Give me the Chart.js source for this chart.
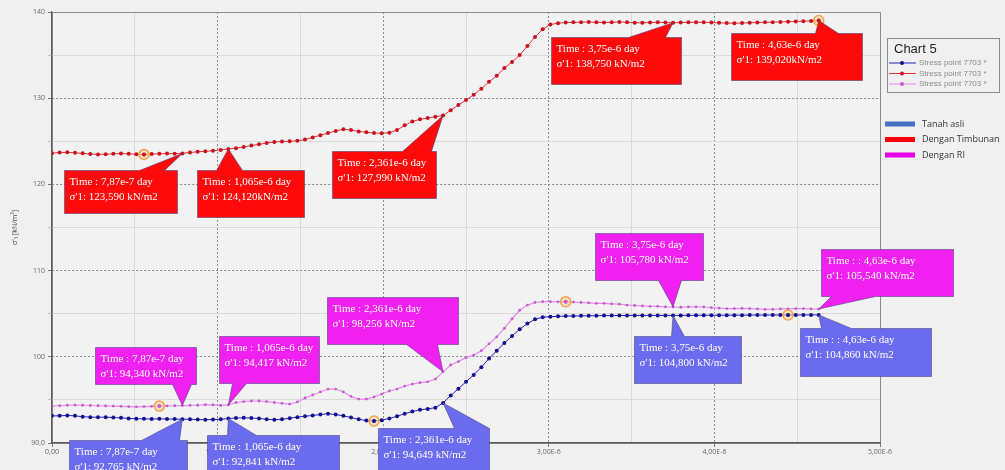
<!DOCTYPE html>
<html>
<head>
<meta charset="utf-8">
<script src="https://cdn.jsdelivr.net/npm/chart.js@4.4.1/dist/chart.umd.min.js"></script>
<style>
  html, body { margin: 0; padding: 0; background: #f0f0f0; }
  canvas { display: block; }
</style>
</head>
<body>
<canvas id="stressChart" width="1005" height="470"></canvas>
<script>
// time of each calculation step, in units of 1e-6 day
const timeMicroDay = [
  0, 0.0463, 0.0926, 0.1389, 0.1852, 0.2315, 0.2778, 0.3241, 0.3704, 0.4167,
  0.463, 0.5093, 0.5556, 0.6019, 0.6482, 0.6945, 0.7408, 0.7871, 0.8334, 0.8797,
  0.926, 0.9723, 1.0186, 1.0649, 1.1112, 1.1575, 1.2038, 1.2501, 1.2964, 1.3427,
  1.389, 1.4353, 1.4816, 1.5279, 1.5742, 1.6205, 1.6668, 1.7131, 1.7594, 1.8057,
  1.852, 1.8983, 1.9446, 1.9909, 2.0372, 2.0835, 2.1298, 2.1761, 2.2224, 2.2687,
  2.315, 2.3613, 2.4076, 2.4539, 2.5002, 2.5465, 2.5928, 2.6391, 2.6854, 2.7317,
  2.778, 2.8243, 2.8706, 2.9169, 2.9632, 3.0095, 3.0558, 3.1021, 3.1484, 3.1947,
  3.241, 3.2873, 3.3336, 3.3799, 3.4262, 3.4725, 3.5188, 3.5651, 3.6114, 3.6577,
  3.704, 3.7503, 3.7966, 3.8429, 3.8892, 3.9355, 3.9818, 4.0281, 4.0744, 4.1207,
  4.167, 4.2133, 4.2596, 4.3059, 4.3522, 4.3985, 4.4448, 4.4911, 4.5374, 4.5837,
  4.63
];

// sigma'1 [kN/m2] at stress point 7703
const tanahAsli = [
  93.15, 93.15, 93.20, 93.15, 93.05, 93.00, 92.98, 93.00, 92.95, 92.92,
  92.85, 92.82, 92.80, 92.78, 92.80, 92.78, 92.77, 92.765, 92.75, 92.72,
  92.70, 92.72, 92.75, 92.841, 92.90, 92.92, 92.90, 92.85, 92.75, 92.70,
  92.75, 92.88, 93.00, 93.10, 93.20, 93.30, 93.40, 93.30, 93.15, 92.95,
  92.75, 92.60, 92.55, 92.65, 92.85, 93.10, 93.40, 93.65, 93.85, 93.95,
  94.10, 94.649, 95.50, 96.30, 97.10, 97.90, 98.80, 99.80, 100.70, 101.60,
  102.40, 103.20, 103.85, 104.35, 104.60, 104.65, 104.70, 104.72, 104.74, 104.75,
  104.76, 104.77, 104.78, 104.78, 104.79, 104.79, 104.80, 104.80, 104.80, 104.80,
  104.80, 104.80, 104.80, 104.81, 104.81, 104.82, 104.82, 104.82, 104.83, 104.83,
  104.83, 104.84, 104.84, 104.84, 104.85, 104.85, 104.85, 104.85, 104.86, 104.86,
  104.86
];
const denganTimbunan = [
  123.62, 123.70, 123.72, 123.66, 123.60, 123.52, 123.48, 123.50, 123.55, 123.58,
  123.55, 123.50, 123.48, 123.52, 123.56, 123.58, 123.57, 123.59, 123.70, 123.78,
  123.84, 123.90, 124.00, 124.12, 124.20, 124.35, 124.50, 124.65, 124.80, 124.92,
  124.98, 125.00, 125.05, 125.20, 125.45, 125.70, 125.95, 126.20, 126.40, 126.30,
  126.15, 126.05, 125.95, 125.93, 126.00, 126.30, 126.85, 127.30, 127.55, 127.70,
  127.85, 127.99, 128.60, 129.20, 129.80, 130.40, 131.10, 131.90, 132.60, 133.50,
  134.20, 135.00, 136.05, 137.10, 138.00, 138.55, 138.70, 138.78, 138.80, 138.82,
  138.85, 138.80, 138.78, 138.80, 138.85, 138.80, 138.75, 138.75, 138.78, 138.80,
  138.78, 138.75, 138.78, 138.80, 138.82, 138.80, 138.78, 138.75, 138.72, 138.70,
  138.72, 138.75, 138.78, 138.80, 138.82, 138.85, 138.88, 138.90, 138.93, 138.97,
  139.02
];
const denganRI = [
  94.30, 94.32, 94.38, 94.40, 94.38, 94.35, 94.32, 94.30, 94.28, 94.25,
  94.22, 94.20, 94.22, 94.25, 94.28, 94.30, 94.32, 94.34, 94.36, 94.38,
  94.45, 94.42, 94.36, 94.417, 94.70, 94.81, 94.87, 94.87, 94.81, 94.70,
  94.60, 94.52, 94.76, 95.22, 95.57, 95.92, 96.26, 96.26, 95.92, 95.40,
  95.10, 95.10, 95.34, 95.68, 96.03, 96.26, 96.60, 96.84, 97.00, 97.10,
  97.42, 98.256, 99.05, 99.45, 99.90, 100.20, 100.70, 101.50, 102.30, 103.30,
  104.40, 105.40, 106.00, 106.30, 106.40, 106.40, 106.38, 106.40, 106.35, 106.30,
  106.25, 106.20, 106.20, 106.15, 106.10, 106.00, 105.95, 105.90, 105.85, 105.85,
  105.80, 105.78, 105.75, 105.80, 105.80, 105.78, 105.70, 105.65, 105.60, 105.60,
  105.62, 105.60, 105.55, 105.50, 105.50, 105.55, 105.55, 105.60, 105.60, 105.55,
  105.54
];

const seriesNames = ['Tanah asli', 'Dengan Timbunan', 'Dengan RI'];
const legendName = 'Stress point 7703 *';
const chartTitle = 'Chart 5';

const xTicks = [0, 1, 2, 3, 4, 5];
const xTickLabels = ['0,00', '1,00E-6', '2,00E-6', '3,00E-6', '4,00E-6', '5,00E-6'];
const yTicks = [90, 100, 110, 120, 130, 140];
const yTickLabels = ['90,0', '100', '110', '120', '130', '140'];

// steps that carry a value label, and the time text shown on them
const labelSteps = [17, 23, 51, 81, 100];
const labelTimes = ['7,87e-7', '1,065e-6', '2,361e-6', '3,75e-6', '4,63e-6'];

// selected points circled in orange: [dataset, step]
const circledPoints = [[1, 12], [1, 100], [2, 14], [0, 42], [2, 67], [0, 96]];

const lineColors = ['#2323c4', '#e6303a', '#e48ae8'];
const dotColors = ['#12128e', '#c8141c', '#c85ad0'];
const boxColors = ['#6b6bef', '#ff0a0a', '#f020f0'];
const swatchColors = ['#4472c4', '#ff0000', '#e600e6'];

// callout placement relative to the labelled point (dataset, label no.)
const callouts = [
  { s: 1, k: 0, dx: -118, dy: 17, w: 113, h: 43, edge: 'top', b0: 75, b1: 100, sep: ' ', colon: ':' },
  { s: 1, k: 1, dx: -31, dy: 21, w: 107, h: 47, edge: 'top', b0: 19, b1: 45, sep: '', colon: ':' },
  { s: 1, k: 2, dx: -111, dy: 35, w: 104, h: 47, edge: 'top', b0: 70, b1: 99, sep: ' ', colon: ':' },
  { s: 1, k: 3, dx: -122, dy: 14, w: 130, h: 47, edge: 'top', b0: 77, b1: 114, sep: ' ', colon: ':' },
  { s: 1, k: 4, dx: -88, dy: 13, w: 131, h: 47, edge: 'top', b0: 84, b1: 107, sep: '', colon: ':' },
  { s: 2, k: 0, dx: -87, dy: -59, w: 101, h: 37, edge: 'bottom', b0: 77, b1: 96, sep: ' ', colon: ':' },
  { s: 2, k: 1, dx: -9, dy: -69, w: 100, h: 47, edge: 'bottom', b0: 13, b1: 27, sep: ' ', colon: ':' },
  { s: 2, k: 2, dx: -116, dy: -75, w: 131, h: 47, edge: 'bottom', b0: 79, b1: 110, sep: ' ', colon: ':' },
  { s: 2, k: 3, dx: -78, dy: -74, w: 108, h: 47, edge: 'bottom', b0: 63, b1: 86, sep: ' ', colon: ':' },
  { s: 2, k: 4, dx: 2, dy: -60, w: 132, h: 47, edge: 'bottom', b0: 10, b1: 54, sep: ' ', colon: ': :' },
  { s: 0, k: 0, dx: -113, dy: 21, w: 118, h: 42, edge: 'top', b0: 72, b1: 110, sep: ' ', colon: ':' },
  { s: 0, k: 1, dx: -21, dy: 16, w: 132, h: 42, edge: 'top', b0: 20, b1: 49, sep: ' ', colon: ':' },
  { s: 0, k: 2, dx: -65, dy: 25, w: 111, h: 45, edge: 'top', b0: 76, b1: 111, sep: ' ', colon: ':' },
  { s: 0, k: 3, dx: -39, dy: 21, w: 107, h: 47, edge: 'top', b0: 37, b1: 50, sep: ' ', colon: ':' },
  { s: 0, k: 4, dx: -19, dy: 13, w: 131, h: 48, edge: 'top', b0: 21, b1: 51, sep: ' ', colon: ': :' }
];

function fmtValue(v) {
  return v.toFixed(3).replace('.', ',');
}

const seriesData = [tanahAsli, denganTimbunan, denganRI];

const isWhole = (v) => Math.abs(v - Math.round(v)) < 1e-9;

const backgroundPlugin = {
  id: 'background',
  beforeDraw(chart) {
    const ctx = chart.ctx;
    ctx.save();
    ctx.fillStyle = '#f0f0f0';
    ctx.fillRect(0, 0, chart.width, chart.height);
    const a = chart.chartArea;
    ctx.fillStyle = '#f2f2f2';
    ctx.fillRect(a.left, a.top, a.right - a.left, a.bottom - a.top);
    ctx.restore();
  }
};

const circlePlugin = {
  id: 'circled',
  afterDatasetsDraw(chart) {
    const ctx = chart.ctx;
    ctx.save();
    circledPoints.forEach(([ds, i]) => {
      const pt = chart.getDatasetMeta(ds).data[i];
      ctx.beginPath();
      ctx.arc(pt.x, pt.y, 5, 0, Math.PI * 2);
      ctx.fillStyle = 'rgba(255, 214, 150, 0.55)';
      ctx.fill();
      ctx.lineWidth = 1.5;
      ctx.strokeStyle = '#f2a24a';
      ctx.stroke();
      ctx.beginPath();
      ctx.arc(pt.x, pt.y, 2, 0, Math.PI * 2);
      ctx.fillStyle = dotColors[ds];
      ctx.fill();
    });
    ctx.restore();
  }
};

const calloutPlugin = {
  id: 'callouts',
  afterDraw(chart) {
    const ctx = chart.ctx;
    ctx.save();
    callouts.forEach((c) => {
      const step = labelSteps[c.k];
      const pt = chart.getDatasetMeta(c.s).data[step];
      const tipX = pt.x;
      const tipY = pt.y;
      const left = Math.round(tipX + c.dx) + 0.5;
      const top = Math.round(tipY + c.dy) + 0.5;
      const right = left + c.w;
      const bottom = top + c.h;

      ctx.beginPath();
      if (c.edge === 'top') {
        ctx.moveTo(left, top);
        ctx.lineTo(left + c.b0, top);
        ctx.lineTo(tipX, tipY);
        ctx.lineTo(left + c.b1, top);
        ctx.lineTo(right, top);
        ctx.lineTo(right, bottom);
        ctx.lineTo(left, bottom);
      } else {
        ctx.moveTo(left, top);
        ctx.lineTo(right, top);
        ctx.lineTo(right, bottom);
        ctx.lineTo(left + c.b1, bottom);
        ctx.lineTo(tipX, tipY);
        ctx.lineTo(left + c.b0, bottom);
        ctx.lineTo(left, bottom);
      }
      ctx.closePath();
      ctx.fillStyle = boxColors[c.s];
      ctx.fill();
      ctx.lineWidth = 1;
      ctx.strokeStyle = 'rgba(70, 60, 120, 0.55)';
      ctx.stroke();

      ctx.fillStyle = '#ffffff';
      ctx.font = "11px 'Liberation Serif', serif";
      ctx.textAlign = 'left';
      ctx.textBaseline = 'middle';
      ctx.fillText('Time ' + c.colon + ' ' + labelTimes[c.k] + ' day', left + 5, top + 12);
      ctx.fillText("σ'1: " + fmtValue(seriesData[c.s][step]) + c.sep + 'kN/m2', left + 5, top + 27);
    });
    ctx.restore();
  }
};

const legendPlugin = {
  id: 'sideLegend',
  afterDraw(chart) {
    const ctx = chart.ctx;
    ctx.save();
    // boxed series legend
    ctx.strokeStyle = '#8a8a8a';
    ctx.lineWidth = 1;
    ctx.strokeRect(887.5, 38.5, 112, 54);
    ctx.fillStyle = '#222';
    ctx.font = "13px 'Liberation Sans', sans-serif";
    ctx.textBaseline = 'middle';
    ctx.fillText(chartTitle, 894, 49);
    seriesNames.forEach((name, ds) => {
      const y = 63 + ds * 10.5;
      ctx.strokeStyle = lineColors[ds];
      ctx.beginPath();
      ctx.moveTo(889, y);
      ctx.lineTo(916, y);
      ctx.stroke();
      ctx.beginPath();
      ctx.arc(902, y, 2, 0, Math.PI * 2);
      ctx.fillStyle = dotColors[ds];
      ctx.fill();
      ctx.fillStyle = '#8a8a8a';
      ctx.font = "8px 'Liberation Sans', sans-serif";
      ctx.fillText(legendName, 919, y);
    });
    // colour key
    seriesNames.forEach((name, i) => {
      const y = 124 + i * 15.5;
      ctx.fillStyle = swatchColors[i];
      ctx.fillRect(885, y - 2.5, 30, 5);
      ctx.fillStyle = '#333';
      ctx.font = "9px 'Open Sans', sans-serif";
      ctx.fillText(name, 922, y);
    });
    ctx.restore();
  }
};

const ctx = document.getElementById('stressChart').getContext('2d');

const myChart = new Chart(ctx, {
  type: 'line',
  data: {
    datasets: seriesData.map((values, ds) => ({
      label: legendName,
      data: values.map((v, i) => ({ x: timeMicroDay[i], y: v })),
      borderColor: lineColors[ds],
      borderWidth: ds === 2 ? 1.2 : 1,
      pointRadius: ds === 2 ? 1.4 : 2,
      pointBackgroundColor: dotColors[ds],
      pointBorderWidth: 0,
      tension: 0
    }))
  },
  options: {
    responsive: false,
    animation: false,
    layout: { padding: { top: 12, right: 125, left: 0, bottom: 0 } },
    plugins: {
      legend: { display: false },
      tooltip: { enabled: false }
    },
    scales: {
      x: {
        type: 'linear',
        min: 0,
        max: 5,
        afterBuildTicks(scale) {
          const t = [];
          for (let v = 0; v <= 5; v += 0.5) t.push({ value: v });
          scale.ticks = t;
        },
        afterFit(scale) { scale.height = 27; },
        ticks: {
          autoSkip: false,
          maxRotation: 0,
          padding: 1,
          color: '#666',
          font: { size: 7, family: "'Open Sans', sans-serif" },
          callback: (v) => {
            const k = xTicks.indexOf(v);
            return k >= 0 ? xTickLabels[k] : '';
          }
        },
        grid: {
          tickLength: 4,
          color: (c) => {
            const v = c.tick ? c.tick.value : 0;
            if (v === 5) return '#8c8c8c';
            return isWhole(v) ? '#8a8a8a' : '#dadada';
          },
          tickColor: (c) => (c.tick && isWhole(c.tick.value) ? '#777' : 'rgba(0,0,0,0)')
        },
        border: {
          color: '#5a5a5a',
          width: 1.2,
          dash: (c) => {
            if (!c.tick) return [];
            const v = c.tick.value;
            return isWhole(v) && v > 0 && v < 5 ? [2, 2] : [];
          }
        }
      },
      y: {
        min: 90,
        max: 140,
        afterBuildTicks(scale) {
          const t = [];
          for (let v = 90; v <= 140; v += 5) t.push({ value: v });
          scale.ticks = t;
        },
        afterFit(scale) { scale.width = 52; },
        title: {
          display: true,
          text: "σ'₁ [kN/m²]",
          color: '#444',
          font: { size: 7, family: "'Open Sans', sans-serif" },
          padding: { top: 11, bottom: 0 }
        },
        ticks: {
          padding: 3,
          color: '#666',
          font: { size: 7, family: "'Open Sans', sans-serif" },
          callback: (v) => {
            const k = yTicks.indexOf(v);
            return k >= 0 ? yTickLabels[k] : '';
          }
        },
        grid: {
          tickLength: 4,
          color: (c) => {
            const v = c.tick ? c.tick.value : 0;
            if (v === 140) return '#8c8c8c';
            return v % 10 === 0 ? '#8a8a8a' : '#dadada';
          },
          tickColor: (c) => (c.tick && c.tick.value % 10 === 0 ? '#777' : '#c8c8c8')
        },
        border: {
          color: '#5a5a5a',
          width: 1.2,
          dash: (c) => {
            if (!c.tick) return [];
            const v = c.tick.value;
            return v % 10 === 0 && v > 90 && v < 140 ? [2, 2] : [];
          }
        }
      }
    }
  },
  plugins: [backgroundPlugin, circlePlugin, calloutPlugin, legendPlugin]
});
</script>
</body>
</html>
